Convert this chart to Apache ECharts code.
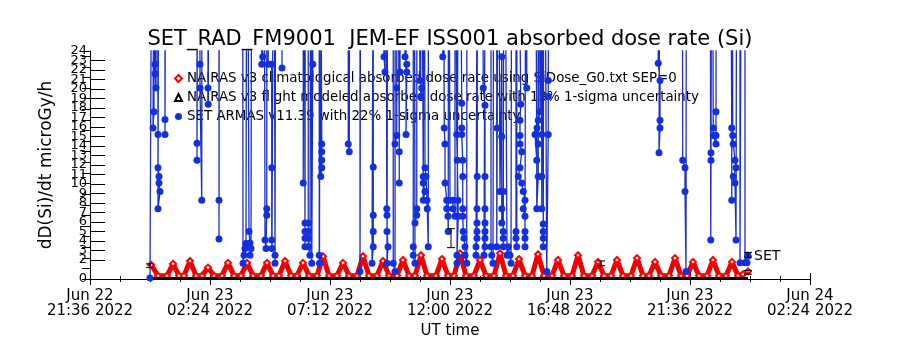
<!DOCTYPE html>
<html>
<head>
<meta charset="utf-8">
<script src="https://cdn.jsdelivr.net/npm/echarts@6/dist/echarts.min.js"></script>
<style>
  html, body { margin: 0; padding: 0; background: #fff; }
  #chart { width: 900px; height: 350px; }
</style>
</head>
<body>
<div id="chart"></div>
<script>
// x values are hours after Jun 22 21:36 UT
const tickLabels = [
  'Jun 22\n21:36 2022', 'Jun 23\n02:24 2022', 'Jun 23\n07:12 2022', 'Jun 23\n12:00 2022',
  'Jun 23\n16:48 2022', 'Jun 23\n21:36 2022', 'Jun 24\n02:24 2022'
]

const seriesNames = [
  'NAIRAS v3 climatological absorbed dose rate using SiDose_G0.txt SEP=0',
  'NAIRAS v3 flight modeled absorbed dose rate with 13% 1-sigma uncertainty',
  'SET ARMAS v11.39 with 22% 1-sigma uncertainty'
]

// NAIRAS climatological (red diamonds)
const redTimes = [2.44, 2.72, 3.08, 3.32, 3.56, 3.76, 4.00, 4.24, 4.48, 4.72, 4.96, 5.28, 5.52, 5.76,
  6.04, 6.28, 6.52, 6.84, 7.08, 7.32, 7.56, 7.80, 8.04, 8.28, 8.52, 8.76, 9.08, 9.32, 9.56,
  9.88, 10.12, 10.36, 10.68, 10.92, 11.16, 11.48, 11.72, 11.96, 12.28, 12.52, 12.76, 13.00, 13.24, 13.48,
  13.84, 14.08, 14.32, 14.56, 14.80, 15.04, 15.36, 15.60, 15.84, 16.16, 16.40, 16.64, 16.92, 17.16, 17.40,
  17.68, 17.92, 18.16, 18.48, 18.72, 18.96, 19.28, 19.52, 19.76, 20.08, 20.32, 20.56, 20.84, 21.08, 21.32,
  21.64, 21.88, 22.12, 22.36, 22.60, 22.84, 23.16, 23.40, 23.64, 23.88, 24.12, 24.36, 24.68, 24.92, 25.16,
  25.44, 25.68, 25.92, 26.12, 26.32]
const redValues = [1.5, 0.35, 0.35, 1.6, 0.35, 0.35, 1.9, 0.35, 0.35, 1.2, 0.35, 0.35, 1.7, 0.35,
  0.35, 1.7, 0.35, 0.35, 1.7, 0.35, 0.35, 1.9, 0.35, 0.35, 1.7, 0.35, 0.35, 2.4, 0.35,
  0.35, 1.7, 0.35, 0.35, 2.4, 0.35, 0.35, 1.9, 0.35, 0.35, 2.0, 0.35, 0.35, 2.5, 0.35,
  0.35, 2.1, 0.35, 0.35, 2.7, 0.35, 0.35, 2.0, 0.35, 0.35, 2.7, 0.35, 0.35, 2.1, 0.35,
  0.35, 2.6, 0.35, 0.35, 2.0, 0.35, 0.35, 2.5, 0.35, 0.35, 1.8, 0.35, 0.35, 2.0, 0.35,
  0.35, 2.2, 0.35, 0.35, 1.8, 0.35, 0.35, 2.2, 0.35, 0.35, 1.8, 0.35, 0.35, 2.0, 0.35,
  0.35, 1.8, 0.35, 0.5, 0.8]

// NAIRAS flight modeled (black triangles)
const flightTimes = [2.40, 4.40, 6.40, 8.40, 10.40, 12.40, 14.40, 16.40, 18.40, 20.40, 22.40, 24.40, 26.32]
const flightValues = [0.05, 0.05, 0.05, 0.05, 0.05, 0.05, 0.05, 0.05, 0.05, 0.05, 0.05, 0.05, 0.05]

// SET ARMAS measurements (blue), 60 = off scale
const setTimes = [
  2.40, 2.50, 2.56, 2.52, 2.60, 2.60, 2.60, 2.64, 2.68, 2.72, 2.72, 2.76, 2.76, 2.80, 2.72, 2.76,
  3.00, 3.00, 3.00, 3.04,
  4.28, 4.28, 4.28, 4.32, 4.40, 4.40, 4.47, 4.48,
  4.72, 4.72, 4.73, 4.76,
  5.16, 5.16, 5.16, 5.18,
  6.10, 6.12, 6.16, 6.20, 6.24, 6.28,
  6.36, 6.36, 6.40, 6.40, 6.44, 6.48,
  6.87, 6.87, 6.91, 6.96, 7.00, 7.04, 7.07, 7.07, 7.08, 7.13, 7.27, 7.27, 7.27, 7.28, 7.36, 7.40, 7.40, 7.44,
  7.68, 7.68, 7.70,
  8.53, 8.53, 8.56, 8.60, 8.60, 8.60, 8.60, 8.62,
  8.73, 8.73, 8.73, 8.73, 8.73, 8.80, 8.84, 8.87, 8.91, 8.93,
  9.17, 9.17, 9.18, 9.20,
  9.27, 9.27, 9.27, 9.27, 9.27, 9.23, 9.28,
  10.33, 10.33, 10.37, 10.40,
  10.80, 10.80, 10.84,
  11.33, 11.33, 11.33, 11.33, 11.33, 11.28, 11.36, 11.76, 11.80, 11.84, 11.87, 11.88, 11.88, 11.92, 11.88, 11.92,
  12.13, 12.13, 12.20, 12.22, 12.20, 12.27, 12.27, 12.28, 12.37, 12.37, 12.38, 12.40, 12.44, 12.60, 12.67, 12.67, 12.64, 12.66,
  12.93, 12.93, 12.93, 13.00, 12.96, 13.00, 13.07, 13.07, 13.08, 13.20, 13.27, 13.23, 13.24, 13.33, 13.33, 13.40, 13.33, 13.36,
  13.40, 13.44, 13.48, 13.49, 13.53, 13.54,
  14.11, 14.11, 14.12, 14.17, 14.20, 14.20, 14.27, 14.27, 14.32, 14.33, 14.34, 14.40, 14.52, 14.52, 14.60, 14.60,
  14.67, 14.69, 14.72, 14.73, 14.68, 14.68, 14.76,
  14.87, 14.87, 14.87, 14.91, 14.91, 14.91, 14.91, 14.93, 14.96, 15.00, 15.00, 15.07, 15.08,
  15.49, 15.49, 15.48, 15.48, 15.48, 15.48, 15.44, 15.44, 15.52,
  15.67, 15.73, 15.80, 15.80, 15.80, 15.80, 15.80, 15.80, 15.80, 15.76, 15.84,
  16.04, 16.04, 16.07, 16.12, 16.16,
  16.27, 16.27, 16.29, 16.31, 16.40, 16.47, 16.47, 16.47, 16.47, 16.53, 16.53, 16.53, 16.53, 16.56, 16.68, 16.73, 16.80, 16.84, 16.88,
  17.04, 17.04, 17.04, 17.07, 17.08, 17.23, 17.20, 17.20, 17.20, 17.27, 17.20, 17.13, 17.27, 17.33, 17.40, 17.33, 17.40, 17.40,
  17.40, 17.40, 17.44, 17.47, 17.48,
  17.80, 17.87, 17.80, 17.88, 17.93, 18.00, 18.00, 17.93, 17.93, 17.87, 17.88, 18.07, 18.07, 18.07, 18.08, 18.13, 18.13, 18.13,
  18.13, 18.16, 18.27, 18.33, 18.33, 18.33, 18.36,
  22.73, 22.73, 22.80, 22.80, 22.80, 22.76, 22.82,
  23.68, 23.71, 23.80, 23.80, 23.84, 23.86,
  24.80, 24.83, 24.84, 24.84, 24.88, 24.93, 24.93, 25.04, 25.04, 25.04, 25.06,
  25.60, 25.67, 25.67, 25.68, 25.71, 25.73, 25.80, 25.84, 25.73, 25.80, 25.84, 25.88,
  26.00, 26.00, 26.08, 26.20, 26.20, 26.28, 26.31, 26.32
]
const setValues = [
  0.1, 60, 17.6, 15.9, 60, 22.6, 21.6, 20.1, 60, 15.2, 11.7, 10.8, 10.1, 9.2, 7.4, 60,
  60, 16.8, 15.2, 60,
  60, 14.3, 12.5, 60, 22.6, 20.1, 8.3, 60,
  60, 20.1, 18.4, 60,
  60, 8.3, 4.2, 60,
  60, 1.65, 2.5, 3.2, 3.75, 60,
  60, 5.0, 3.8, 2.5, 3.2, 60,
  60, 22.6, 23.4, 60, 4.1, 3.2, 7.4, 6.7, 60, 22.6, 22.6, 11.7, 4.1, 3.2, 60, 2.5, 1.65, 60,
  60, 22.2, 60,
  60, 10.1, 60, 5.9, 5.0, 4.3, 3.4, 60,
  60, 5.9, 5.0, 4.3, 3.4, 2.5, 60, 1.65, 22.6, 60,
  60, 2.5, 1.65, 60,
  60, 14.2, 13.4, 12.5, 11.7, 10.8, 60,
  60, 14.2, 13.4, 60,
  60, 0.8, 60,
  60, 11.8, 6.7, 5.0, 3.4, 1.65, 60, 23.4, 21.8, 60, 7.4, 6.7, 5.0, 3.4, 1.65, 60,
  60, 1.65, 0.8, 60, 14.2, 15.1, 20.1, 60, 13.4, 10.1, 60, 21.8, 60, 23.4, 22.6, 21.8, 15.2, 60,
  60, 3.4, 2.5, 1.65, 60, 5.9, 6.7, 7.4, 60, 20.9, 20.1, 19.2, 60, 10.8, 10.1, 9.2, 8.3, 60,
  11.7, 10.8, 8.3, 7.4, 3.4, 60,
  60, 23.4, 60, 15.9, 14.2, 10.1, 8.3, 7.4, 6.6, 5.0, 60, 8.3, 8.3, 7.4, 6.6, 60,
  15.2, 12.5, 8.3, 6.6, 2.5, 1.65, 60,
  18.5, 15.9, 15.2, 12.5, 10.8, 7.4, 6.6, 5.0, 4.3, 3.4, 2.5, 1.65, 60,
  60, 10.8, 7.4, 5.9, 5.0, 4.3, 3.4, 2.5, 60,
  60, 20.1, 18.3, 10.8, 7.4, 5.9, 5.0, 4.3, 3.4, 2.5, 60,
  60, 3.4, 2.5, 1.65, 60,
  60, 3.4, 15.9, 60, 9.2, 23.4, 15.0, 7.4, 5.9, 9.2, 5.0, 4.3, 3.4, 60, 2.5, 3.4, 2.5, 1.65, 60,
  60, 5.0, 4.3, 3.4, 60, 18.4, 16.7, 15.1, 14.2, 13.4, 11.7, 10.8, 10.1, 9.2, 8.3, 7.4, 6.6, 5.0,
  4.3, 3.4, 60, 20.1, 60,
  60, 12.5, 15.2, 15.9, 16.7, 17.6, 60, 14.2, 10.8, 7.4, 60, 15.2, 10.8, 7.4, 60, 5.8, 5.0, 4.3,
  3.4, 60, 0.8, 15.2, 19.2, 20.9, 60,
  60, 22.7, 20.9, 16.7, 15.9, 13.3, 60,
  60, 12.5, 11.7, 9.2, 0.8, 60,
  60, 4.1, 12.5, 13.3, 60, 15.9, 15.1, 14.2, 15.1, 17.6, 60,
  60, 15.9, 8.3, 60, 15.1, 14.2, 12.5, 11.7, 10.8, 10.1, 4.1, 60,
  60, 1.7, 60, 60, 1.7, 1.7, 2.5, 2.4
]

// 1-sigma bars
const errTimes = [2.40, 14.44, 20.44, 26.32, 26.32]
const errLow = [1.2, 3.3, 1.4, 0.5, 2.3]
const errHigh = [1.6, 5.3, 1.9, 0.9, 2.8]

const zip = (a, b) => a.map((v, i) => [v, b[i]])
const font = 'DejaVu Sans'

const myChart = echarts.init(document.getElementById('chart'))

const option = {
  animation: false,
  backgroundColor: '#fff',
  textStyle: { fontFamily: font, color: '#000' },
  title: {
    text: 'SET_RAD_FM9001  JEM-EF ISS001 absorbed dose rate (Si)',
    left: 'center',
    top: 24,
    textStyle: { fontFamily: font, fontSize: 21, fontWeight: 'normal', color: '#000' }
  },
  legend: {
    orient: 'vertical',
    left: 174,
    top: 72,
    padding: 0,
    itemGap: 6,
    itemWidth: 7,
    itemHeight: 7,
    itemStyle: { borderWidth: 1 },
    textStyle: { fontFamily: font, fontSize: 13.4, color: '#000' },
    data: [
      { name: seriesNames[0], icon: 'emptyDiamond' },
      { name: seriesNames[1], icon: 'emptyTriangle' },
      { name: seriesNames[2], icon: 'circle' }
    ]
  },
  grid: { left: 90, right: 90, top: 51, bottom: 71 },
  xAxis: [
    {
      type: 'value', min: 0, max: 28.8, interval: 4.8,
      name: 'UT time', nameLocation: 'middle', nameGap: 44,
      nameTextStyle: { fontFamily: font, fontSize: 15, color: '#000' },
      axisLine: { lineStyle: { color: '#000', width: 1 } },
      axisTick: { inside: true, length: 6, lineStyle: { color: '#000' } },
      minorTick: { show: true, splitNumber: 4, length: 3, lineStyle: { color: '#000' } },
      splitLine: { show: false },
      axisLabel: {
        fontFamily: font, fontSize: 15, color: '#000', lineHeight: 15, margin: 10,
        showMinLabel: true, showMaxLabel: true,
        formatter: v => tickLabels[Math.round(v / 4.8)]
      }
    },
    {
      type: 'value', position: 'top', min: 0, max: 28.8, interval: 4.8,
      axisLine: { lineStyle: { color: '#000', width: 1 } },
      axisTick: { inside: true, length: 6, lineStyle: { color: '#000' } },
      minorTick: { show: true, splitNumber: 4, length: 3, lineStyle: { color: '#000' } },
      splitLine: { show: false },
      axisLabel: { show: false }
    }
  ],
  yAxis: [
    {
      type: 'value', min: 0, max: 24, interval: 1,
      name: 'dD(Si)/dt microGy/h', nameLocation: 'middle', nameGap: 35,
      nameTextStyle: { fontFamily: font, fontSize: 17, color: '#000' },
      axisLine: { lineStyle: { color: '#000', width: 1 } },
      axisTick: { inside: true, length: 15, lineStyle: { color: '#000' } },
      splitLine: { show: false },
      axisLabel: {
        fontFamily: font, fontSize: 13, lineHeight: 8, color: '#000', margin: 3,
        showMinLabel: true, showMaxLabel: false, hideOverlap: false
      }
    },
    {
      type: 'value', position: 'right', min: 0, max: 21.5, interval: 1,
      axisLine: { show: true, lineStyle: { color: '#000', width: 1 } },
      axisTick: { show: true, inside: true, length: 8, lineStyle: { color: '#000' } },
      splitLine: { show: false },
      axisLabel: { show: false }
    },
    {
      // only carries the top "24" label
      type: 'value', position: 'left', min: 0, max: 24, interval: 1,
      axisLine: { show: false },
      axisTick: { show: false },
      splitLine: { show: false },
      axisLabel: {
        fontFamily: font, fontSize: 13, lineHeight: 8, color: '#000', margin: 3,
        showMinLabel: false, showMaxLabel: true,
        formatter: v => (v === 24 ? '24' : '')
      }
    }
  ],
  series: [
    {
      name: seriesNames[0],
      type: 'line',
      data: zip(redTimes, redValues),
      symbol: 'emptyDiamond',
      symbolSize: 6,
      showSymbol: true,
      color: '#ff0000',
      lineStyle: { color: '#f00000', width: 5 },
      itemStyle: { color: '#ff0000', borderColor: '#ff0000' },
      z: 3
    },
    {
      name: seriesNames[1],
      type: 'line',
      data: zip(flightTimes, flightValues),
      symbol: 'none',
      color: '#000',
      lineStyle: { color: '#000', width: 3 },
      z: 4
    },
    {
      name: seriesNames[2],
      type: 'line',
      data: zip(setTimes, setValues),
      symbol: 'circle',
      symbolSize: 7,
      showAllSymbol: true,
      clip: true,
      color: '#1230e0',
      lineStyle: { color: '#1a2fc8', width: 1.3 },
      itemStyle: { color: '#1230e0' },
      endLabel: {
        show: true, formatter: 'SET', fontFamily: font, fontSize: 14, color: '#000',
        offset: [-2, 0]
      },
      z: 5
    },
    {
      type: 'custom',
      data: errTimes.map((t, i) => [t, errLow[i], errHigh[i]]),
      encode: { x: 0, y: [1, 2] },
      renderItem: (params, api) => {
        const lo = api.coord([api.value(0), api.value(1)])
        const hi = api.coord([api.value(0), api.value(2)])
        const st = { stroke: '#000', lineWidth: 1 }
        return {
          type: 'group',
          children: [
            { type: 'line', shape: { x1: lo[0], y1: lo[1], x2: hi[0], y2: hi[1] }, style: st },
            { type: 'line', shape: { x1: lo[0] - 4, y1: lo[1], x2: lo[0] + 4, y2: lo[1] }, style: st },
            { type: 'line', shape: { x1: hi[0] - 4, y1: hi[1], x2: hi[0] + 4, y2: hi[1] }, style: st }
          ]
        }
      },
      z: 6
    }
  ]
}

myChart.setOption(option)
</script>
</body>
</html>
